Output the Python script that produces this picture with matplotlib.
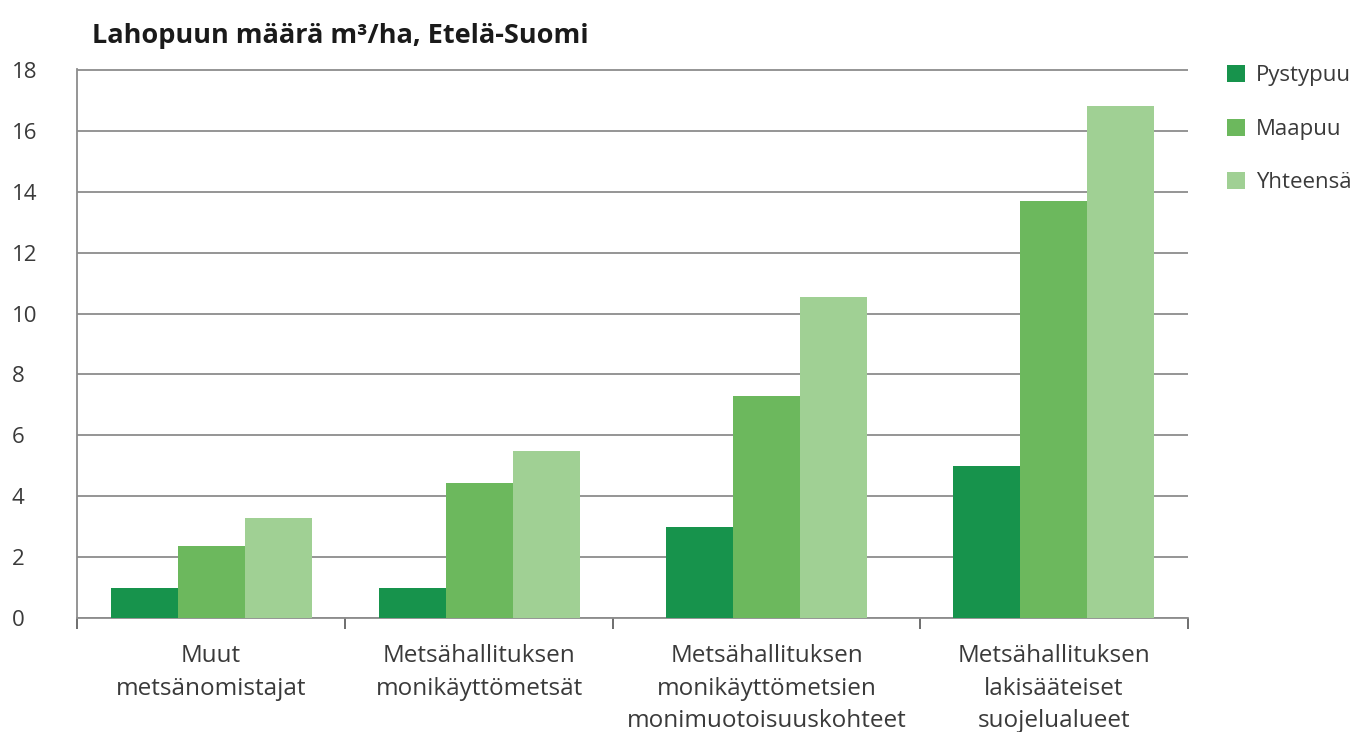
import matplotlib
matplotlib.use("Agg")
import matplotlib.pyplot as plt
from matplotlib.patches import Patch
import numpy as np

# ---- data ----
categories = [
    "Muut\nmetsänomistajat",
    "Metsähallituksen\nmonikäyttömetsät",
    "Metsähallituksen\nmonikäyttömetsien\nmonimuotoisuuskohteet",
    "Metsähallituksen\nlakisääteiset\nsuojelualueet",
]
series_names = ["Pystypuu", "Maapuu", "Yhteensä"]
pystypuu = [1.0, 1.0, 3.0, 5.0]
maapuu = [2.35, 4.45, 7.3, 13.7]
yhteensa = [3.3, 5.5, 10.55, 16.8]
yticks = [0, 2, 4, 6, 8, 10, 12, 14, 16, 18]
title = "Lahopuun määrä m³/ha, Etelä-Suomi"

# ---- style / layout ----
colors = ["#17934c", "#6cb85d", "#a0d094"]
text_color = "#3a3a3a"
grid_color = "#8c8c8c"
cat_widths = np.array([1.0, 1.0, 1.145, 1.0])
bar_w = 0.25
font = ["Open Sans", "DejaVu Sans"]
plt.rcParams["font.family"] = font

W, H = 1362, 732
fig = plt.figure(figsize=(W / 100, H / 100), dpi=100)
x0, x1, y0, y1 = 77, 1188, 618, 69
ax = fig.add_axes([x0 / W, (H - y0) / H, (x1 - x0) / W, (y0 - y1) / H])

edges = np.concatenate([[0], np.cumsum(cat_widths)])
centers = (edges[:-1] + edges[1:]) / 2

for i, (vals, c, name) in enumerate(zip([pystypuu, maapuu, yhteensa], colors, series_names)):
    ax.bar(centers + (i - 1) * bar_w, vals, width=bar_w, color=c, label=name, zorder=3)

ax.set_xlim(edges[0], edges[-1])
ax.set_ylim(0, 18.03)
ax.set_yticks(yticks)
ax.set_yticklabels([str(v) for v in yticks])
ax.yaxis.grid(True, color=grid_color, linewidth=1.3, zorder=0)
ax.set_axisbelow(True)

for s in ["top", "right"]:
    ax.spines[s].set_visible(False)
for s in ["left", "bottom"]:
    ax.spines[s].set_color(grid_color)
    ax.spines[s].set_linewidth(1.3)

ax.tick_params(axis="y", length=0, pad=47, labelsize=16, labelcolor=text_color)
for lab in ax.get_yticklabels():
    lab.set_horizontalalignment("left")
    lab.set_y(lab.get_position()[1])

ax.set_xticks(centers)
ax.set_xticklabels(categories, fontsize=17.5, color=text_color, linespacing=1.46)
ax.tick_params(axis="x", which="major", length=0, pad=19)
ax.set_xticks(edges, minor=True)
ax.tick_params(axis="x", which="minor", length=8, width=1.2, color="#555555", direction="out")

fig.text(92 / W, 1 - 43 / H, title, fontsize=19.5, fontweight="bold", color="#1a1a1a",
         ha="left", va="baseline")

handles = [Patch(facecolor=c, edgecolor="none") for c in colors]
fig.legend(handles, series_names, loc="upper left",
           bbox_to_anchor=(1218 / W, 1 - 56 / H), frameon=False,
           fontsize=16, handlelength=0.8, handleheight=0.8, handletextpad=0.5,
           labelspacing=1.46, labelcolor=text_color, borderaxespad=0)

fig.savefig("out.png", dpi=100, facecolor="white")
